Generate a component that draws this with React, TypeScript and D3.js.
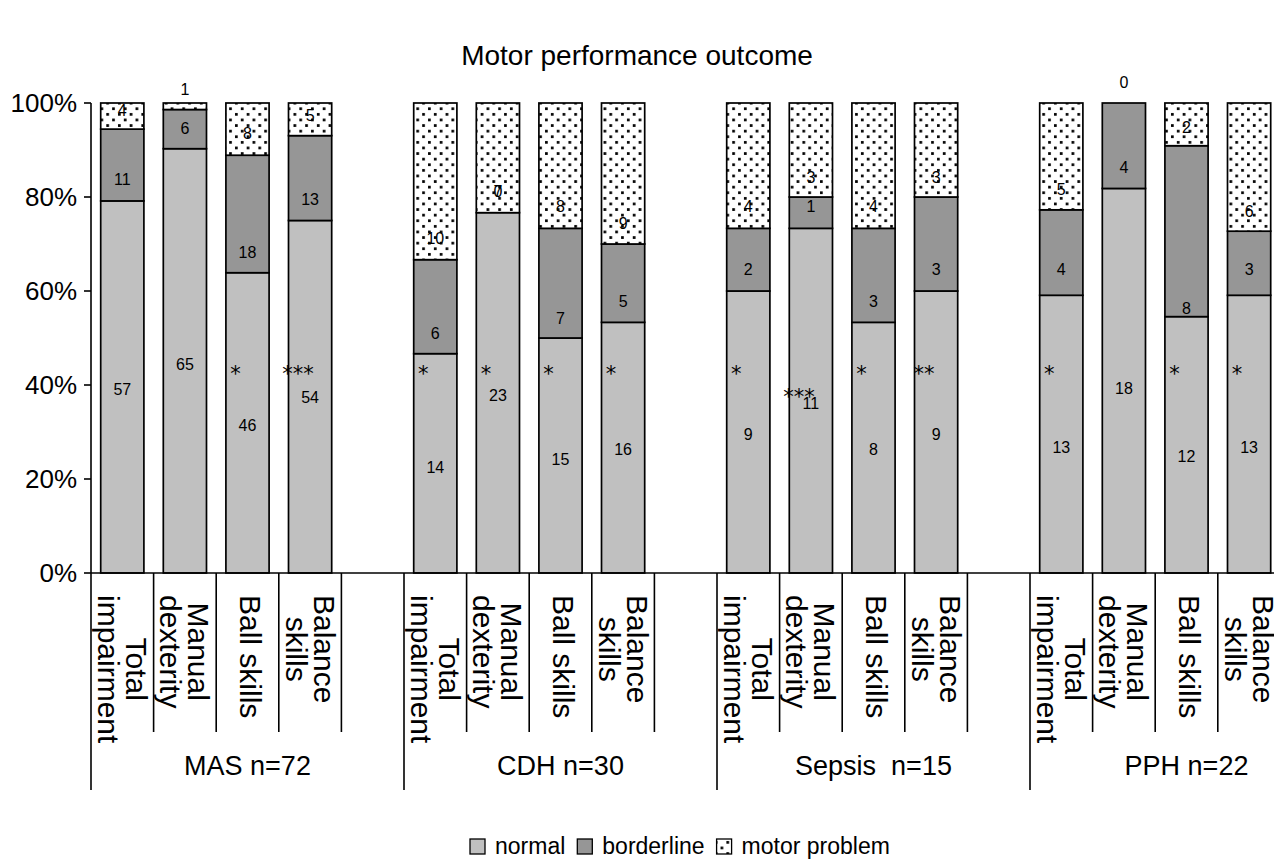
import React from 'react';
import * as d3 from 'd3';

// ---------- data ----------
const groups = ["MAS n=72", "CDH n=30", "Sepsis  n=15", "PPH n=22"];
const measures = [["Total", "impairment"], ["Manual", "dexterity"], ["Ball skills"], ["Balance", "skills"]];
const seriesNames = ["normal", "borderline", "motor problem"];
const normal = [57, 65, 46, 54, 14, 23, 15, 16, 9, 11, 8, 9, 13, 18, 12, 13];
const borderline = [11, 6, 18, 13, 6, 0, 7, 5, 2, 1, 3, 3, 4, 4, 8, 3];
const motorProblem = [4, 1, 8, 5, 10, 7, 8, 9, 4, 3, 4, 3, 5, 0, 2, 6];
const significance = ["", "", "*", "***", "*", "*", "*", "*", "*", "***", "*", "**", "*", "", "*", "*"];
const yTicks = [0, 20, 40, 60, 80, 100];
// where the data labels sit, in percent units
const normalLabelAt = [39.1, 44.4, 31.4, 37.3, 22.5, 37.7, 24.2, 26.2, 29.4, 36.1, 26.2, 29.4, 26.8, 39.2, 24.7, 26.8];
const borderlineLabelAt = [83.8, 94.6, 68.2, 79.5, 51.0, 81.1, 54.2, 57.7, 64.5, 77.9, 57.7, 64.6, 64.5, 86.3, 56.2, 64.5];
const problemLabelAt = [98.5, 102.9, 93.6, 97.4, 71.2, 81.1, 77.9, 74.4, 77.9, 84.2, 77.9, 84.2, 81.6, 104.3, 94.8, 76.9];
const starAt = [43.5, 43.5, 43.5, 43.5, 43.5, 43.5, 43.5, 43.5, 43.5, 38.6, 43.5, 43.5, 43.5, 43.5, 43.5, 43.5];

const FONT = "'Liberation Sans', Arial, Helvetica, sans-serif";

let ctx: CanvasRenderingContext2D | null = null;
function measure(text: string, size: number) {
  if (!ctx) ctx = document.createElement('canvas').getContext('2d');
  if (!ctx) return text.length * size * 0.5;
  ctx.font = `${size}px 'Liberation Sans', Arial, sans-serif`;
  return ctx.measureText(text).width;
}

export default function App() {
  const W = 1274, H = 859;
  const slotCount = groups.length * 5;
  const left = 91;
  const stepPx = 62.6;
  const x = d3.scaleBand<number>()
    .domain(d3.range(slotCount))
    .range([left, left + stepPx * slotCount])
    .paddingInner(0.31)
    .paddingOuter(0.155);
  const y = d3.scaleLinear().domain([0, 100]).range([573, 103]);
  const bw = x.bandwidth();
  const step = x.step();

  const rows = normal.map((n, i) => {
    const total = n + borderline[i] + motorProblem[i];
    return {
      i,
      slot: Math.floor(i / 4) * 5 + (i % 4),
      normal: (n / total) * 100,
      borderline: (borderline[i] / total) * 100,
      problem: (motorProblem[i] / total) * 100,
    };
  });
  const keys = ["normal", "borderline", "problem"];
  const stacked = d3.stack<any>().keys(keys)(rows);
  const fills = ["#C0C0C0", "#969696", "url(#dots)"];
  const values = [normal, borderline, motorProblem];
  const anchors = [normalLabelAt, borderlineLabelAt, problemLabelAt];

  const axisY = y(0);
  const catFont = 30;
  const catTop = 595;

  // legend layout
  const legFont = 23;
  let lx = 470;
  const legendItems = seriesNames.map((name, k) => {
    const item = { name, k, x: lx };
    lx += 15 + 10 + measure(name, legFont) + 12;
    return item;
  });

  return (
    <svg width={W} height={H} style={{ position: 'absolute', left: 0, top: 0, display: 'block', background: '#fff' }}
      fontFamily={FONT}>
      <defs>
        <pattern id="dots" width={11.7} height={11.2} patternUnits="userSpaceOnUse">
          <rect width={11.7} height={11.2} fill="#fff" />
          <rect x={1} y={1} width={2.7} height={2.7} fill="#000" />
          <rect x={6.85} y={6.6} width={2.7} height={2.7} fill="#000" />
        </pattern>
      </defs>
      <rect width={W} height={H} fill="#fff" />

      {/* title */}
      <text x={637} y={55} textAnchor="middle" dominantBaseline="central" fontSize={28}>Motor performance outcome</text>

      {/* bars */}
      {stacked.map((series, k) => (
        <g key={k}>
          {series.map((d: any, j: number) => (
            <rect key={j} x={x(d.data.slot)} y={y(d[1])} width={bw} height={Math.max(0, y(d[0]) - y(d[1]))}
              fill={fills[k]} stroke="#000" strokeWidth={1.7} />
          ))}
        </g>
      ))}

      {/* data labels */}
      {rows.map((r) => (
        <g key={r.i}>
          {values.map((vals, k) => (
            <text key={k} x={(x(r.slot) as number) + bw / 2} y={y(anchors[k][r.i])} textAnchor="middle"
              dominantBaseline="central" fontSize={16}>{vals[r.i]}</text>
          ))}
          {significance[r.i] && (
            <text x={(x(r.slot) as number) + bw / 2 - 12} y={y(starAt[r.i]) + 12} textAnchor="middle"
              fontSize={21} fontFamily="'DejaVu Sans', sans-serif">{significance[r.i]}</text>
          )}
        </g>
      ))}

      {/* y axis */}
      <line x1={left} x2={left} y1={y(100)} y2={axisY} stroke="#000" strokeWidth={1.6} />
      {yTicks.map((t) => (
        <g key={t}>
          <line x1={left - 7} x2={left} y1={y(t)} y2={y(t)} stroke="#000" strokeWidth={1.6} />
          <text x={left - 14} y={y(t)} textAnchor="end" dominantBaseline="central" fontSize={26}>{t}%</text>
        </g>
      ))}

      {/* x axis */}
      <line x1={left} x2={left + step * slotCount} y1={axisY} y2={axisY} stroke="#000" strokeWidth={1.6} />
      {d3.range(slotCount + 1).map((s) => {
        const xp = left + s * step;
        const long = s % 5 === 0;
        return <line key={s} x1={xp} x2={xp} y1={axisY} y2={long ? 790 : 732} stroke="#000" strokeWidth={1.6} />;
      })}

      {/* category labels (rotated) */}
      {rows.map((r) => {
        const lines = measures[r.i % 4];
        const c = (x(r.slot) as number) + bw / 2;
        const maxLen = Math.max(...lines.map((l) => measure(l, catFont)));
        return lines.map((line, li) => {
          const off = lines.length === 2 ? (li === 0 ? 14 : -14) : 3;
          return (
            <text key={`${r.i}-${li}`} transform={`translate(${c + off},${catTop + maxLen / 2}) rotate(90)`}
              textAnchor="middle" dominantBaseline="central" fontSize={catFont}>{line}</text>
          );
        });
      })}

      {/* group labels */}
      {groups.map((g, gi) => (
        <text key={g} x={left + (gi * 5 + 2.5) * step} y={766} textAnchor="middle" dominantBaseline="central"
          fontSize={27} style={{ whiteSpace: 'pre' }}>{g}</text>
      ))}

      {/* legend */}
      {legendItems.map((it) => (
        <g key={it.name}>
          <rect x={it.x} y={839} width={15} height={15} fill={fills[it.k]} stroke="#000" strokeWidth={1.3} />
          <text x={it.x + 25} y={846} dominantBaseline="central" fontSize={legFont}>{it.name}</text>
        </g>
      ))}
    </svg>
  );
}
